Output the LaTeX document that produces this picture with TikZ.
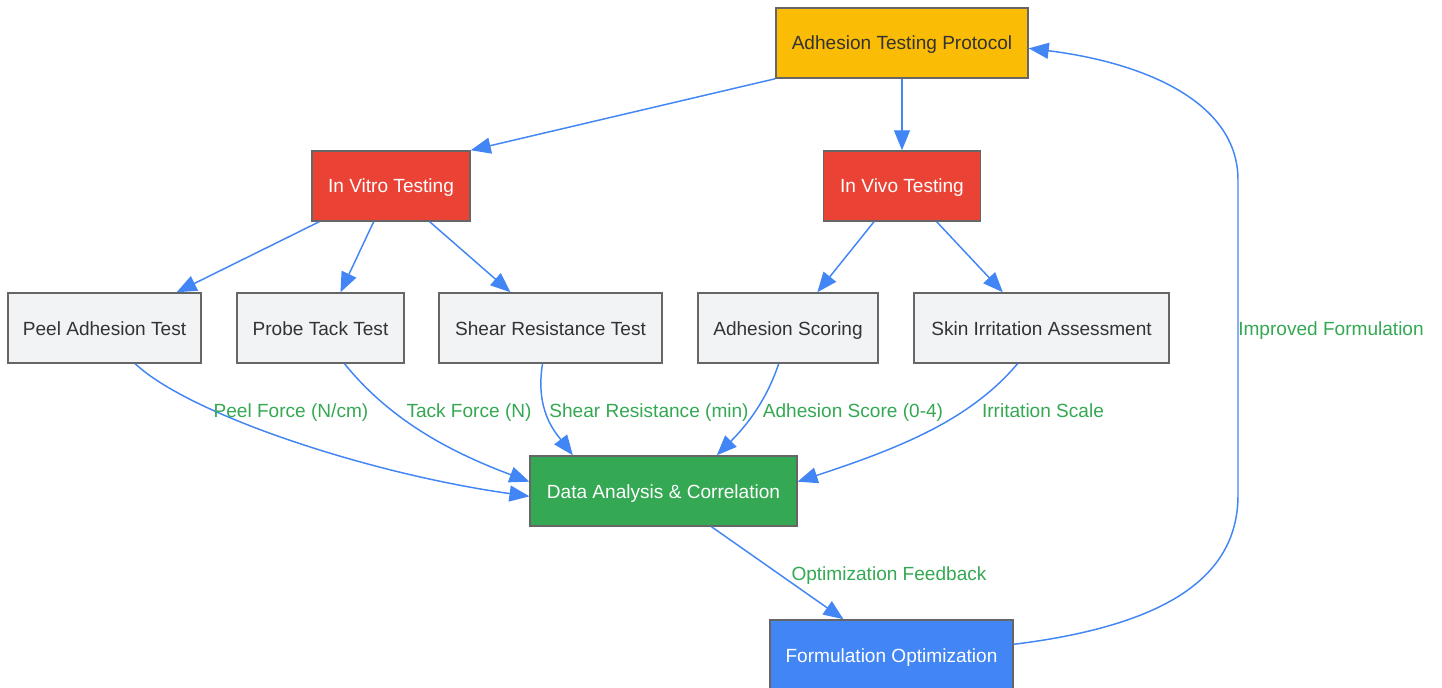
\documentclass[tikz,border=0pt]{standalone}
\usepackage{fontspec}
\setmainfont{Liberation Sans}
\usetikzlibrary{arrows.meta}

\definecolor{gyellow}{HTML}{FBBC05}
\definecolor{gred}{HTML}{EA4335}
\definecolor{ggreen}{HTML}{34A853}
\definecolor{gblue}{HTML}{4285F4}
\definecolor{ggray}{HTML}{F1F3F4}
\definecolor{gborder}{HTML}{666666}
\definecolor{gtext}{HTML}{333333}

\begin{document}
\begin{tikzpicture}[
  x=0.75pt, y=-0.75pt,
  font=\fontsize{14.3}{17}\selectfont,
  box/.style = {rectangle, draw=gborder, line width=1.1pt, minimum height=52.5pt, align=center, text=gtext, fill=ggray, text height=11.5pt, text depth=1pt},
  root_box/.style = {box, fill=gyellow},
  test_box/.style = {box, fill=gred, text=white},
  data_box/.style = {box, fill=ggreen, text=white},
  opt_box/.style = {box, fill=gblue, text=white},
  arrow/.style = {draw=gblue, line width=1.1pt, -{Triangle[length=15pt, width=12pt]}},
  lbl/.style = {text=ggreen, inner sep=1pt, text height=11.5pt, text depth=1pt}
]
\useasboundingbox (0,0) rectangle (1442,688);

%--------------------------------------------------
% Top and second level
%--------------------------------------------------
\node[root_box, minimum width=189pt] (protocol) at (902,43) {Adhesion Testing Protocol};
\node[test_box, minimum width=118.5pt] (vitro) at (391,186) {In Vitro Testing};
\node[test_box, minimum width=118pt] (vivo) at (902,186) {In Vivo Testing};

%--------------------------------------------------
% Individual tests
%--------------------------------------------------
\node[box, minimum width=145pt] (peel) at (104.5,328) {Peel Adhesion Test};
\node[box, minimum width=125pt] (probe) at (320.5,328) {Probe Tack Test};
\node[box, minimum width=167pt] (shear) at (550.5,328) {Shear Resistance Test};
\node[box, minimum width=135pt] (scoring) at (788,328) {Adhesion Scoring};
\node[box, minimum width=191pt] (skin) at (1041.5,328) {Skin Irritation Assessment};

%--------------------------------------------------
% Analysis and optimization
%--------------------------------------------------
\node[data_box, minimum width=200pt] (data) at (663.5,491) {Data Analysis \& Correlation};
\node[opt_box, minimum width=182pt] (formulation) at (891.5,655) {Formulation Optimization};

%--------------------------------------------------
% Connections
%--------------------------------------------------
\draw[arrow] (protocol.south west) -- (vitro.north east);
\draw[arrow] (protocol.south) -- (vivo.north);

\draw[arrow] ([xshift=6pt]vitro.south west) -- ([xshift=-19pt]peel.north east);
\draw[arrow] ([xshift=-13pt]vitro.south) -- ([xshift=15pt]probe.north);
\draw[arrow] ([xshift=29pt]vitro.south) -- ([xshift=-30pt]shear.north);

\draw[arrow] ([xshift=-21pt]vivo.south) -- ([xshift=22pt]scoring.north);
\draw[arrow] ([xshift=26pt]vivo.south) -- ([xshift=-29pt]skin.north);

% measured quantities into analysis
\draw[arrow] ([xshift=23pt]peel.south) .. controls (190,415) and (370,474) .. ([yshift=-4pt]data.west);
\draw[arrow] ([xshift=18pt]probe.south) .. controls (390,420) and (450,452) .. ([yshift=7pt]data.west);
\draw[arrow] ([xshift=-6pt]shear.south) .. controls (535,410) and (555,432) .. ([xshift=-68pt]data.north);
\draw[arrow] ([xshift=-7pt]scoring.south) .. controls (765,405) and (742,430) .. ([xshift=40pt]data.north);
\draw[arrow] ([xshift=-18pt]skin.south) .. controls (970,420) and (900,448) .. ([yshift=7pt]data.east);

\node[lbl] (l_peel) at (291,410) {Peel Force (N/cm)};
\node[lbl] (l_tack) at (469,410) {Tack Force (N)};
\node[lbl] (l_shear) at (649,410) {Shear Resistance (min)};
\node[lbl] (l_score) at (853,410) {Adhesion Score (0-4)};
\node[lbl] (l_irr) at (1043,410) {Irritation Scale};

% feedback loop
\draw[arrow] ([xshift=36pt]data.south) -- ([xshift=-36pt]formulation.north);
\node[lbl] (l_opt) at (889,573) {Optimization Feedback};

\draw[arrow] ([yshift=8pt]formulation.east) .. controls (1170,625) and (1238,575) .. (1238,495)
  -- (1238,180) .. controls (1238,100) and (1140,62) .. ([yshift=-4pt]protocol.east);
\node[lbl] (l_impr) at (1331,328) {Improved Formulation};

\end{tikzpicture}
\end{document}
